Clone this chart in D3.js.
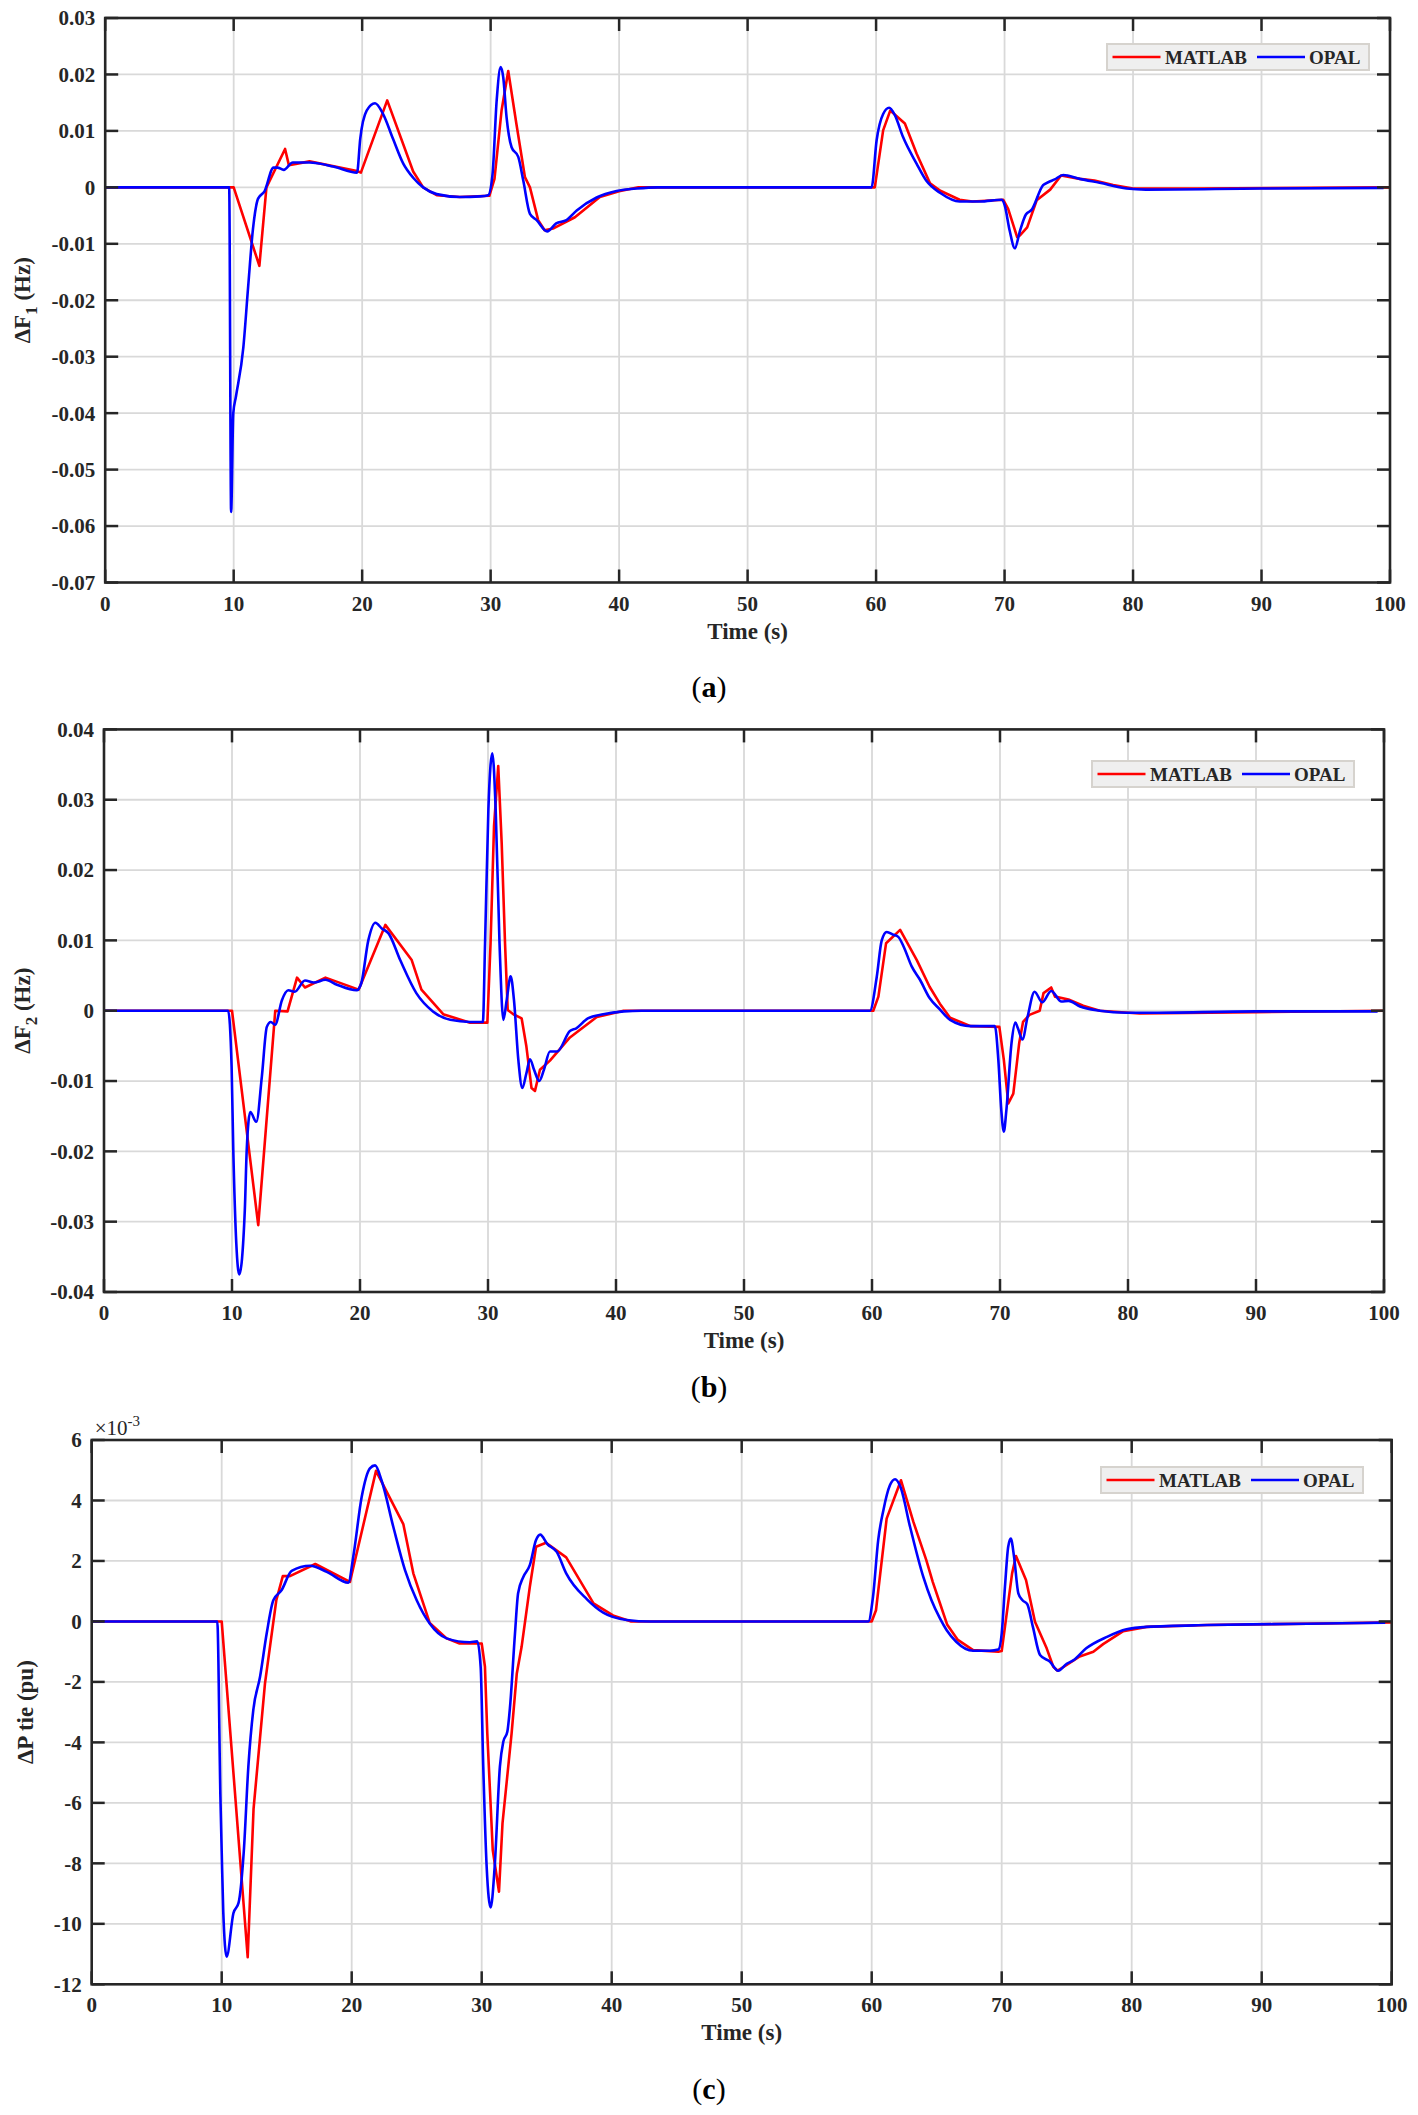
<!DOCTYPE html>
<html>
<head>
<meta charset="utf-8">
<script src="https://cdn.jsdelivr.net/npm/d3@7"></script>
<style>
  body { margin: 0; background: #fff; }
  text { font-family: "Liberation Serif", "Times New Roman", serif; fill: #262626; }
</style>
</head>
<body>
<svg id="fig" width="1418" height="2115"></svg>
<script>
// ---- data ----
var timeTicks = [0, 10, 20, 30, 40, 50, 60, 70, 80, 90, 100];
var f1Ticks = [0.03, 0.02, 0.01, 0, -0.01, -0.02, -0.03, -0.04, -0.05, -0.06, -0.07];
var f2Ticks = [0.04, 0.03, 0.02, 0.01, 0, -0.01, -0.02, -0.03, -0.04];
var tieTicks = [6, 4, 2, 0, -2, -4, -6, -8, -10, -12];
var seriesNames = ["MATLAB", "OPAL"];

// (a) delta F1 (Hz), [time, value]
var f1Matlab = [[0,0],[10,0],[12.0,-0.0139],[12.55,0],[14.0,0.0068],[14.3,0.0039],[15.9,0.0046],[19.6,0.0029],
  [19.9,0.0026],[21.95,0.0154],[23.97,0.0028],[24.75,0],[25.8,-0.0014],[27.6,-0.0017],[29.9,-0.0015],[30.3,0.0015],
  [30.85,0.0136],[31.37,0.0206],[32.0,0.0113],[32.67,0.0018],[33.06,0],[33.7,-0.0058],[34.2,-0.0076],[34.85,-0.0073],
  [36.56,-0.0053],[38.5,-0.0017],[40,-0.0007],[41.5,0],[59.9,0],[60.55,0.0101],[61.1,0.0136],[62.24,0.0113],
  [63.15,0.006],[64.2,0.0007],[65.0,-0.0006],[66.5,-0.0022],[67.5,-0.0025],[69.9,-0.0022],[70.28,-0.0038],
  [70.98,-0.0088],[71.2,-0.0085],[71.76,-0.0071],[72.5,-0.0023],[73.55,-0.0004],[74.4,0.0021],[75.86,0.0015],
  [77.0,0.0012],[78.45,0.0004],[80,-0.0002],[85,-0.0002],[100,0]];
var f1Opal = [[0,0],[9.65,0],[9.8,-0.0575],[9.97,-0.040],[10.18,-0.037],[10.75,-0.0284],[11.13,-0.0175],[11.5,-0.0074],
  [11.9,-0.002],[12.4,-0.0007],[13.1,0.0035],[13.4,0.0035],[13.9,0.0031],[14.6,0.0044],[15.9,0.0044],[17.75,0.0037],
  [19.6,0.0026],[19.85,0.0086],[20.35,0.0136],[21.0,0.0149],[21.65,0.0129],[22.4,0.0086],[23.2,0.0042],[23.97,0.0017],
  [24.75,0],[25.8,-0.0012],[27.6,-0.0017],[29.2,-0.0016],[29.8,-0.0014],[30.15,0.0024],[30.47,0.0154],[30.78,0.0213],
  [30.98,0.0195],[31.24,0.0124],[31.63,0.0071],[32.15,0.0054],[32.54,0.0012],[33.06,-0.0047],[33.58,-0.0058],
  [34.4,-0.0078],[35.1,-0.0064],[35.9,-0.0058],[36.7,-0.0041],[38.25,-0.0018],[39.8,-0.00065],[41.4,-0.0002],[43,0],
  [59.65,0],[60.04,0.0083],[60.55,0.013],[61.02,0.0141],[61.46,0.0128],[62.1,0.0089],[63.15,0.0042],[63.9,0.0012],
  [65.0,-0.001],[66.5,-0.0025],[68.1,-0.0025],[69.77,-0.0022],[70.0,-0.0031],[70.4,-0.0077],[70.8,-0.0108],
  [71.2,-0.0077],[71.66,-0.0048],[72.1,-0.004],[73.0,0.0004],[73.4,0.0009],[73.9,0.0014],[74.56,0.0022],
  [75.86,0.0015],[77.4,0.0008],[79.5,-0.0002],[81.0,-0.0004],[90,-0.0002],[99.5,-0.0001]];

// (b) delta F2 (Hz)
var f2Matlab = [[0,0],[10,0],[12.05,-0.0305],[13.38,0],[14.34,-0.0001],[15.08,0.0047],[15.7,0.0033],[17.3,0.0047],
  [19.9,0.003],[21.98,0.0122],[24.04,0.0072],[24.8,0.003],[26.5,-0.0005],[28.6,-0.0017],[29.95,-0.0017],[30.2,0.0096],
  [30.47,0.0262],[30.8,0.0348],[31.07,0.0238],[31.33,0.0096],[31.54,0.0001],[31.98,-0.0005],[32.63,-0.0011],
  [33.0,-0.0051],[33.4,-0.011],[33.67,-0.0114],[34.06,-0.0084],[34.84,-0.0071],[36.4,-0.0038],[38.5,-0.0009],
  [40.6,0],[60.1,0],[60.5,0.002],[61.1,0.0096],[62.2,0.0115],[63.5,0.0072],[64.5,0.0034],[65.3,0.001],[66.1,-0.001],
  [67.7,-0.0022],[69.95,-0.0023],[70.3,-0.007],[70.65,-0.0132],[71.04,-0.0118],[71.5,-0.0046],[71.8,-0.0016],
  [72.3,-0.0006],[73.1,0],[73.4,0.0025],[74.0,0.0033],[74.3,0.002],[75.35,0.0016],[76.5,0.0007],[77.8,0],
  [80.9,-0.0004],[90,-0.0002],[100,0]];
var f2Opal = [[0,0],[9.7,0],[9.97,-0.008],[10.1,-0.0198],[10.57,-0.0375],[11.0,-0.0284],[11.15,-0.0198],[11.43,-0.0144],
  [11.9,-0.0158],[12.33,-0.0094],[12.72,-0.0023],[13.03,-0.0016],[13.37,-0.002],[13.9,0.0015],[14.4,0.0029],
  [14.9,0.0027],[15.7,0.0043],[16.4,0.004],[17.3,0.0044],[18.2,0.0037],[19.74,0.0029],[20.1,0.0039],[20.65,0.01],
  [21.2,0.0125],[21.7,0.0117],[22.23,0.011],[23.14,0.0072],[24.4,0.0025],[25.7,-0.0001],[27.05,-0.0013],
  [28.6,-0.0016],[29.6,-0.0016],[29.77,0.0096],[30.03,0.0286],[30.34,0.0366],[30.6,0.0286],[30.9,0.0096],
  [31.2,-0.0013],[31.46,0.0015],[31.77,0.0049],[32.03,0.0015],[32.37,-0.007],[32.68,-0.011],[33.0,-0.0089],
  [33.28,-0.0069],[33.6,-0.0084],[34.0,-0.01],[34.37,-0.0084],[34.84,-0.0058],[35.4,-0.0058],[36.4,-0.0029],
  [36.9,-0.0025],[37.8,-0.0011],[39.0,-0.0005],[40.6,-0.0001],[42,0],[59.84,0],[60.37,0.0048],[60.76,0.01],
  [61.15,0.0112],[61.67,0.0108],[62.05,0.0105],[62.45,0.0092],[63.1,0.0063],[63.75,0.0044],[64.5,0.0018],
  [65.3,0.0002],[66.1,-0.0013],[67.7,-0.0022],[69.6,-0.0022],[69.87,-0.007],[70.1,-0.0141],[70.3,-0.0172],
  [70.5,-0.0141],[70.9,-0.0046],[71.2,-0.0017],[71.4,-0.0025],[71.75,-0.0041],[72.15,-0.0009],[72.7,0.0027],
  [73.3,0.0012],[74.0,0.0028],[74.8,0.0013],[75.35,0.0014],[76.25,0.0006],[77.8,0],[79.9,-0.0003],[81.5,-0.0003],
  [90,-0.0001],[99.5,-0.0001]];

// (c) delta P tie (pu), in units of 1e-3
var tieMatlab = [[0,0],[10,0],[12.0,-11.1],[12.45,-6.2],[13.33,-2.05],[14.2,0.7],[14.7,1.5],[15.25,1.5],[17.2,1.9],
  [19.87,1.31],[21.87,4.98],[23.97,3.22],[24.74,1.59],[26.0,-0.05],[27.3,-0.56],[28.3,-0.73],[30.0,-0.73],
  [30.25,-1.5],[30.43,-3.7],[30.85,-7.56],[31.33,-8.94],[31.6,-6.68],[32.3,-3.7],[32.7,-1.72],[33.07,-0.84],
  [33.7,1.14],[34.18,2.47],[34.95,2.6],[36.5,2.12],[38.6,0.6],[40.1,0.2],[41.5,0],[60.0,0],[60.33,0.37],
  [61.15,3.4],[62.25,4.67],[63.2,3.3],[64.2,2.03],[64.7,1.3],[65.25,0.6],[65.8,-0.1],[66.6,-0.6],[67.8,-0.95],
  [69.74,-1.0],[70.0,-0.98],[70.25,-0.18],[70.8,1.59],[71.1,2.16],[71.87,1.37],[72.56,-0.01],[73.46,-0.89],
  [73.97,-1.5],[74.3,-1.63],[75.0,-1.44],[76.0,-1.16],[77.05,-1.0],[77.8,-0.75],[79.35,-0.32],[81.15,-0.18],
  [85.8,-0.12],[90.9,-0.09],[96.1,-0.06],[100,-0.03]];
var tieOpal = [[0,0],[9.66,0],[9.9,-5.8],[10.0,-7.6],[10.12,-9.6],[10.38,-11.09],[10.9,-9.65],[11.3,-9.3],
  [11.7,-7.6],[12.05,-4.8],[12.43,-2.93],[12.95,-1.83],[13.46,-0.4],[13.97,0.7],[14.6,1.03],[15.38,1.67],
  [16.8,1.84],[18.08,1.64],[19.74,1.28],[20.12,2.14],[20.77,4.12],[21.4,5.06],[21.8,5.16],[22.3,4.66],[23.2,3.13],
  [24.1,1.7],[25.0,0.7],[26.0,-0.07],[27.3,-0.56],[29.1,-0.69],[29.66,-0.66],[29.92,-1.5],[30.12,-4.8],
  [30.38,-8.1],[30.69,-9.46],[31.0,-8.1],[31.4,-4.8],[31.66,-3.98],[31.97,-3.65],[32.18,-2.82],[32.56,-0.4],
  [32.8,0.93],[33.2,1.47],[33.7,1.86],[34.18,2.69],[34.5,2.87],[35.05,2.56],[35.77,2.3],[36.5,1.59],[38.1,0.73],
  [39.35,0.29],[41.15,0.05],[43,0],[59.74,0],[60.1,0.81],[60.5,2.69],[60.9,3.68],[61.4,4.5],[61.8,4.7],
  [62.2,4.46],[62.95,3.13],[63.97,1.47],[64.6,0.7],[65.25,0.1],[65.77,-0.29],[66.5,-0.67],[67.8,-0.97],
  [69.1,-0.97],[69.74,-0.93],[70.0,-0.4],[70.25,1.14],[70.5,2.47],[70.7,2.74],[70.95,2.14],[71.28,0.93],
  [71.6,0.7],[71.97,0.57],[72.4,-0.18],[72.95,-1.11],[73.7,-1.33],[74.35,-1.63],[75.0,-1.4],[75.5,-1.29],
  [76.5,-0.89],[78.1,-0.51],[79.6,-0.26],[81.15,-0.18],[85.8,-0.12],[90.9,-0.09],[96.1,-0.06],[99.5,-0.04]];

// ---- styling ----
var redColor = "#ff0000";
var blueColor = "#0000ff";
var axisColor = "#262626";
var gridColor = "#d9d9d9";
var tickLen = 13;

function decFmt(d) {
    if (Math.abs(d) < 1e-9) return "0";
    return (d < 0 ? "-" : "") + Math.abs(d).toFixed(2);
}
function intFmt(d) { return String(d); }

// layout for the three stacked panels
var panels = [
    { key: "a", left: 105.2, right: 1390, top: 18, bottom: 582.5, yTicks: f1Ticks, fmt: decFmt,
      red: f1Matlab, blue: f1Opal, ylab: ["\u0394F", "1", " (Hz)"], ylabX: 30,
      legX: 1107, legY: 44, caption: "a", capY: 697 },
    { key: "b", left: 104, right: 1384, top: 729.4, bottom: 1292, yTicks: f2Ticks, fmt: decFmt,
      red: f2Matlab, blue: f2Opal, ylab: ["\u0394F", "2", " (Hz)"], ylabX: 30,
      legX: 1092, legY: 761, caption: "b", capY: 1397 },
    { key: "c", left: 91.7, right: 1391.7, top: 1440, bottom: 1984.3, yTicks: tieTicks, fmt: intFmt,
      red: tieMatlab, blue: tieOpal, ylab: ["\u0394P tie (pu)"], ylabX: 33,
      legX: 1101, legY: 1467, caption: "c", capY: 2099, exponent: true }
];

var svg = d3.select("#fig");

panels.forEach(function(p, pi) {
    var x = d3.scaleLinear().domain([0, 100]).range([p.left, p.right]);
    var y = d3.scaleLinear().domain([d3.min(p.yTicks), d3.max(p.yTicks)]).range([p.bottom, p.top]);
    var g = svg.append("g").attr("class", "panel-" + p.key);

    // grid
    g.append("g").selectAll("line.vgrid")
        .data(timeTicks.slice(1, -1))
        .enter().append("line")
        .attr("x1", x).attr("x2", x)
        .attr("y1", p.top).attr("y2", p.bottom)
        .attr("stroke", gridColor).attr("stroke-width", 1.8);
    g.append("g").selectAll("line.hgrid")
        .data(p.yTicks.slice(1, -1))
        .enter().append("line")
        .attr("y1", y).attr("y2", y)
        .attr("x1", p.left).attr("x2", p.right)
        .attr("stroke", gridColor).attr("stroke-width", 1.8);

    // curves
    var clipId = "clip-" + p.key;
    svg.append("clipPath").attr("id", clipId)
        .append("rect")
        .attr("x", p.left).attr("y", p.top)
        .attr("width", p.right - p.left).attr("height", p.bottom - p.top);

    var lineRed = d3.line().x(function(d) { return x(d[0]); }).y(function(d) { return y(d[1]); });
    var lineBlue = d3.line().x(function(d) { return x(d[0]); }).y(function(d) { return y(d[1]); })
        .curve(d3.curveMonotoneX);

    var curves = g.append("g").attr("clip-path", "url(#" + clipId + ")");
    curves.append("path").datum(p.red)
        .attr("d", lineRed).attr("fill", "none")
        .attr("stroke", redColor).attr("stroke-width", 2.6).attr("stroke-linejoin", "round");
    curves.append("path").datum(p.blue)
        .attr("d", lineBlue).attr("fill", "none")
        .attr("stroke", blueColor).attr("stroke-width", 2.6).attr("stroke-linejoin", "round");

    // ticks (inside, all four sides)
    var tk = g.append("g").attr("stroke", axisColor).attr("stroke-width", 2.5);
    timeTicks.forEach(function(t) {
        tk.append("line").attr("x1", x(t)).attr("x2", x(t)).attr("y1", p.bottom).attr("y2", p.bottom - tickLen);
        tk.append("line").attr("x1", x(t)).attr("x2", x(t)).attr("y1", p.top).attr("y2", p.top + tickLen);
    });
    p.yTicks.forEach(function(v) {
        tk.append("line").attr("y1", y(v)).attr("y2", y(v)).attr("x1", p.left).attr("x2", p.left + tickLen);
        tk.append("line").attr("y1", y(v)).attr("y2", y(v)).attr("x1", p.right).attr("x2", p.right - tickLen);
    });

    // box
    g.append("rect")
        .attr("x", p.left).attr("y", p.top)
        .attr("width", p.right - p.left).attr("height", p.bottom - p.top)
        .attr("fill", "none").attr("stroke", axisColor).attr("stroke-width", 2.6);

    // tick labels
    g.append("g").selectAll("text")
        .data(timeTicks)
        .enter().append("text")
        .attr("x", x).attr("y", p.bottom + 28)
        .attr("text-anchor", "middle")
        .style("font-size", "21px").style("font-weight", "bold")
        .text(function(d) { return d; });
    g.append("g").selectAll("text")
        .data(p.yTicks)
        .enter().append("text")
        .attr("x", p.left - 10).attr("y", y)
        .attr("dy", "0.35em")
        .attr("text-anchor", "end")
        .style("font-size", "21px").style("font-weight", "bold")
        .text(p.fmt);

    // x label
    g.append("text")
        .attr("x", (p.left + p.right) / 2).attr("y", p.bottom + 56)
        .attr("text-anchor", "middle")
        .style("font-size", "23px").style("font-weight", "bold")
        .text("Time (s)");

    // y label
    var yl = g.append("text")
        .attr("transform", "translate(" + p.ylabX + "," + ((p.top + p.bottom) / 2) + ") rotate(-90)")
        .attr("text-anchor", "middle")
        .style("font-size", "23px").style("font-weight", "bold");
    yl.append("tspan").text(p.ylab[0]);
    if (p.ylab.length > 1) {
        yl.append("tspan").attr("dy", 7).style("font-size", "17px").text(p.ylab[1]);
        yl.append("tspan").attr("dy", -7).text(p.ylab[2]);
    }

    // exponent
    if (p.exponent) {
        var ex = g.append("text")
            .attr("x", p.left + 3).attr("y", p.top - 5)
            .style("font-size", "21px");
        ex.append("tspan").text("\u00d710");
        ex.append("tspan").attr("dy", -9).style("font-size", "15px").text("-3");
    }

    // legend
    var leg = g.append("g").attr("transform", "translate(" + p.legX + "," + p.legY + ")");
    leg.append("rect")
        .attr("width", 262).attr("height", 26)
        .attr("fill", "#efefef").attr("stroke", "#d6d3ce").attr("stroke-width", 2);
    var legItems = [
        { name: seriesNames[0], color: redColor, lx: 5.5, tx: 58 },
        { name: seriesNames[1], color: blueColor, lx: 150, tx: 202 }
    ];
    legItems.forEach(function(it) {
        leg.append("line")
            .attr("x1", it.lx).attr("x2", it.lx + 48)
            .attr("y1", 13).attr("y2", 13)
            .attr("stroke", it.color).attr("stroke-width", 2.6);
        leg.append("text")
            .attr("x", it.tx).attr("y", 19.5)
            .style("font-size", "19px").style("font-weight", "bold")
            .text(it.name);
    });

    // caption
    var cap = svg.append("text")
        .attr("x", 709).attr("y", p.capY)
        .attr("text-anchor", "middle")
        .style("font-size", "30px")
        .style("fill", "#000");
    cap.append("tspan").text("(");
    cap.append("tspan").style("font-weight", "bold").text(p.caption);
    cap.append("tspan").text(")");
});
</script>
</body>
</html>
